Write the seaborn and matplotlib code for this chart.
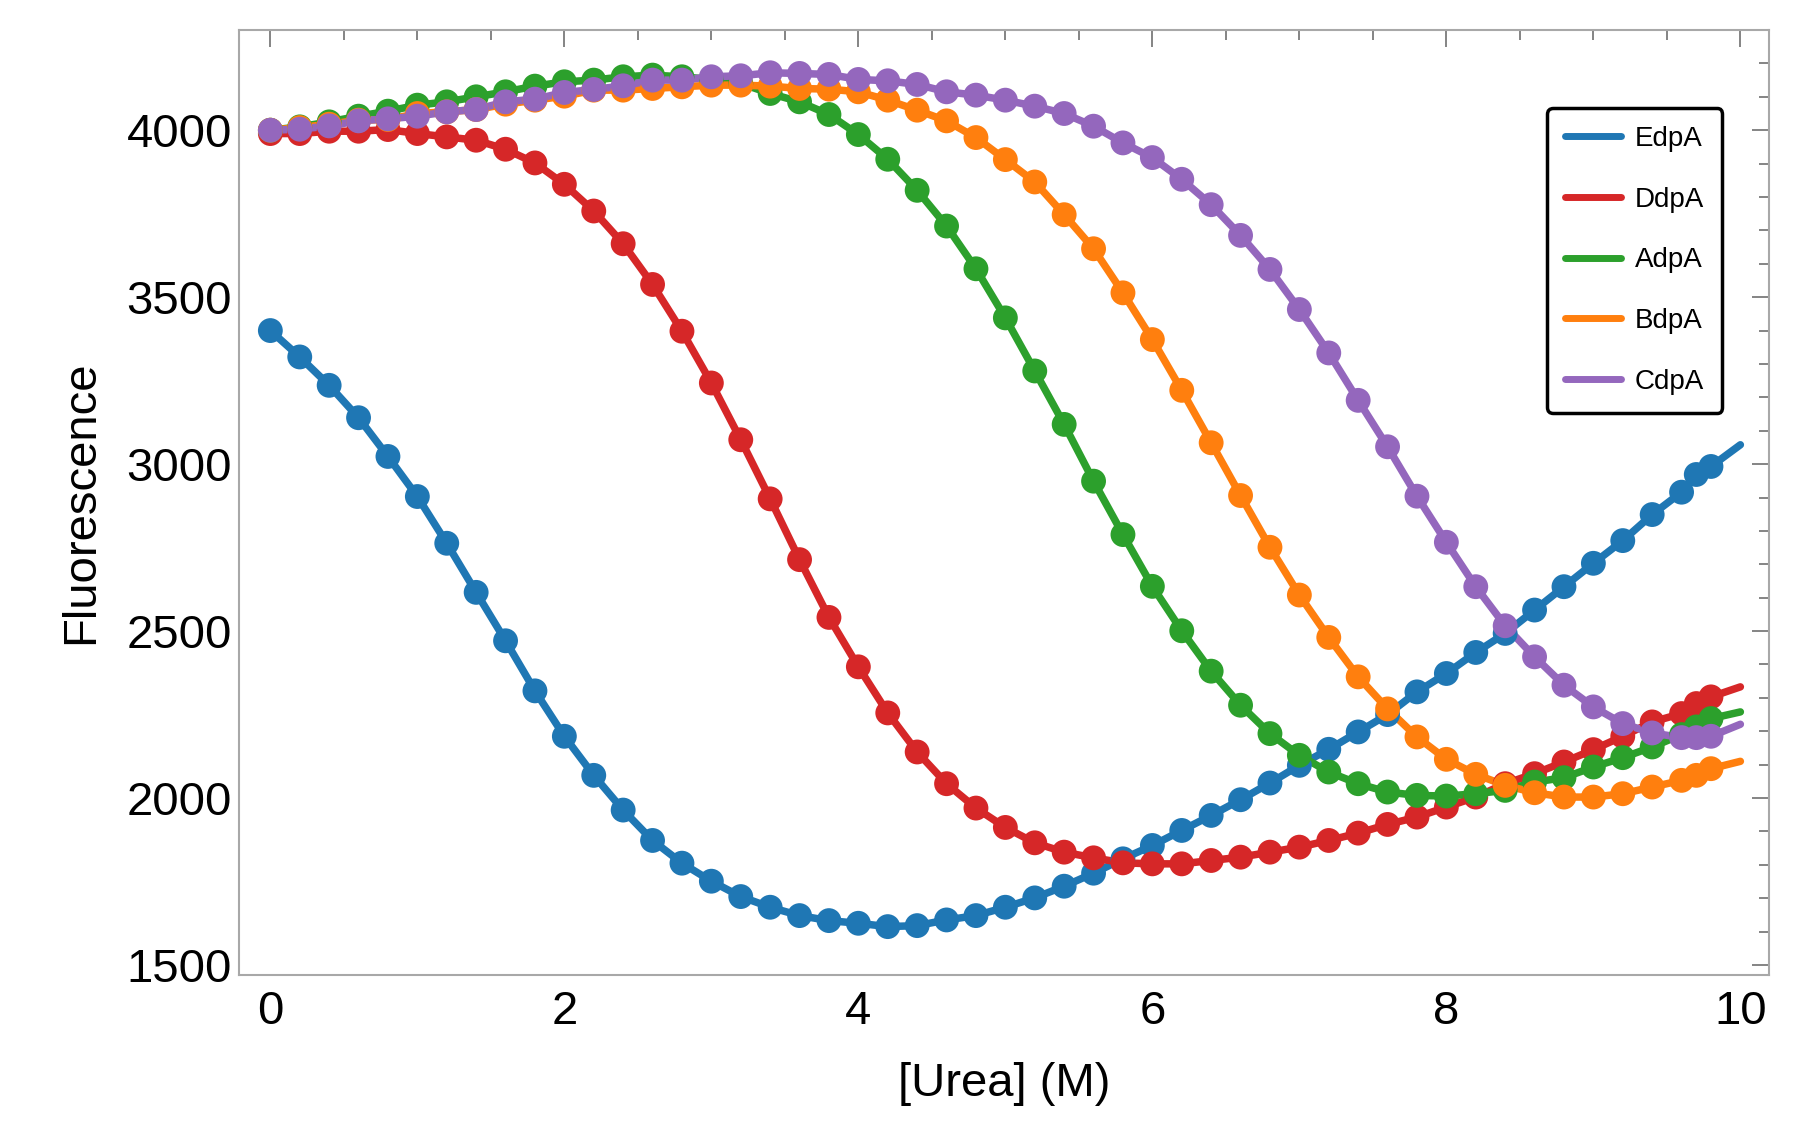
import numpy as np
import pandas as pd
import matplotlib
matplotlib.use("Agg")
import matplotlib.pyplot as plt
from matplotlib.lines import Line2D
from matplotlib.ticker import MultipleLocator
import seaborn as sns

# Datos: urea (M) y fluorescencia de cada proteína
urea = [0.0, 0.2, 0.4, 0.6, 0.8, 1.0, 1.2, 1.4, 1.6, 1.8,
        2.0, 2.2, 2.4, 2.6, 2.8, 3.0, 3.2, 3.4, 3.6, 3.8,
        4.0, 4.2, 4.4, 4.6, 4.8, 5.0, 5.2, 5.4, 5.6, 5.8,
        6.0, 6.2, 6.4, 6.6, 6.8, 7.0, 7.2, 7.4, 7.6, 7.8,
        8.0, 8.2, 8.4, 8.6, 8.8, 9.0, 9.2, 9.4, 9.6, 9.7, 9.8]

edpa = [3400, 3321, 3236, 3139, 3023, 2903, 2763, 2616, 2471, 2321,
        2185, 2068, 1964, 1873, 1805, 1751, 1705, 1673, 1648, 1633,
        1625, 1615, 1618, 1635, 1648, 1673, 1701, 1736, 1775, 1818,
        1858, 1903, 1948, 1995, 2045, 2098, 2146, 2198, 2250, 2318,
        2373, 2436, 2493, 2563, 2633, 2703, 2771, 2849, 2916, 2969, 2993]

ddpa = [3990, 3990, 3997, 3997, 4002, 3990, 3980, 3970, 3943, 3902,
        3838, 3758, 3660, 3538, 3398, 3243, 3073, 2896, 2714, 2541,
        2393, 2255, 2138, 2043, 1970, 1912, 1866, 1838, 1821, 1806,
        1803, 1803, 1813, 1823, 1838, 1853, 1873, 1895, 1921, 1943,
        1973, 2003, 2043, 2073, 2108, 2145, 2185, 2228, 2253, 2283, 2303]

adpa = [4000, 4010, 4025, 4042, 4057, 4075, 4085, 4100, 4115, 4132,
        4145, 4150, 4160, 4165, 4160, 4152, 4140, 4110, 4085, 4047,
        3987, 3913, 3820, 3713, 3585, 3438, 3279, 3119, 2949, 2789,
        2634, 2501, 2380, 2278, 2193, 2128, 2078, 2043, 2018, 2008,
        2006, 2013, 2023, 2048, 2061, 2093, 2121, 2153, 2190, 2213, 2238]

bdpa = [4000, 4008, 4018, 4030, 4032, 4050, 4055, 4062, 4078, 4090,
        4102, 4120, 4120, 4125, 4130, 4135, 4135, 4132, 4125, 4123,
        4115, 4090, 4060, 4028, 3978, 3912, 3845, 3747, 3645, 3513,
        3373, 3221, 3064, 2906, 2751, 2608, 2481, 2363, 2267, 2183,
        2116, 2071, 2038, 2016, 2003, 2003, 2013, 2033, 2053, 2068, 2088]

cdpa = [4000, 4003, 4013, 4028, 4034, 4042, 4055, 4062, 4085, 4093,
        4113, 4122, 4133, 4150, 4150, 4160, 4163, 4172, 4170, 4167,
        4152, 4148, 4137, 4115, 4105, 4090, 4072, 4050, 4012, 3962,
        3918, 3853, 3777, 3685, 3583, 3463, 3333, 3191, 3052, 2904,
        2766, 2633, 2516, 2423, 2338, 2273, 2223, 2195, 2181, 2181, 2185]

# Extremo de las curvas de ajuste en [Urea] = 10 M
urea_end = 10.0
fit_end = [3058, 2333, 2258, 2110, 2221]

proteins = ["EdpA", "DdpA", "AdpA", "BdpA", "CdpA"]
colors = ["#1f77b4", "#d62728", "#2ca02c", "#ff7f0e", "#9467bd"]
series = [edpa, ddpa, adpa, bdpa, cdpa]

# Tablas largas para seaborn
points = pd.concat(
    [pd.DataFrame({"Urea": urea, "Fluorescence": vals, "Protein": name})
     for name, vals in zip(proteins, series)],
    ignore_index=True)
lines = pd.concat(
    [pd.DataFrame({"Urea": urea + [urea_end], "Fluorescence": vals + [end],
                   "Protein": name})
     for name, vals, end in zip(proteins, series, fit_end)],
    ignore_index=True)

sns.set_theme(style="white")
plt.rcParams["font.family"] = ["Liberation Sans", "DejaVu Sans"]
plt.rcParams["text.color"] = "black"
plt.rcParams["axes.labelcolor"] = "black"

palette = dict(zip(proteins, colors))

fig = plt.figure(figsize=(18, 11.42), dpi=100)
ax = fig.add_axes([0.1328, 0.1462, 0.85, 0.8275])

sns.lineplot(data=lines, x="Urea", y="Fluorescence", hue="Protein",
             hue_order=proteins, palette=palette, estimator=None,
             linewidth=5.4, legend=False, ax=ax)
sns.scatterplot(data=points, x="Urea", y="Fluorescence", hue="Protein",
                hue_order=proteins, palette=palette, s=320, linewidth=0,
                legend=False, zorder=3, ax=ax)

ax.set_xlim(-0.213, 10.195)
ax.set_ylim(1470, 4300)

ax.xaxis.set_major_locator(MultipleLocator(2))
ax.xaxis.set_minor_locator(MultipleLocator(0.5))
ax.yaxis.set_major_locator(MultipleLocator(500))
ax.yaxis.set_minor_locator(MultipleLocator(100))
ax.tick_params(which="both", direction="in", top=True, right=True,
               color="#707070", width=1.2)
ax.tick_params(which="major", length=12)
ax.tick_params(which="minor", length=7)
ax.tick_params(axis="both", labelsize=34, labelcolor="black")
ax.tick_params(axis="x", pad=11)
ax.tick_params(axis="y", pad=5)

for sp in ax.spines.values():
    sp.set_color("#a8a8a8")
    sp.set_linewidth(1.5)

ax.set_xlabel("[Urea] (M)", fontsize=34, labelpad=20, color="black")
ax.set_ylabel("Fluorescence", fontsize=34, labelpad=17, color="black")

handles = [Line2D([], [], color=c, lw=5) for c in colors]
leg = ax.legend(handles, proteins, loc="upper right",
                bbox_to_anchor=(0.9693, 0.9175), borderaxespad=0,
                fontsize=20, frameon=True, fancybox=True,
                handlelength=2.0, handletextpad=0.5, labelspacing=1.25,
                borderpad=0.65)
leg.get_frame().set_edgecolor("black")
leg.get_frame().set_linewidth(2.5)
leg.get_frame().set_alpha(1)
for t in leg.get_texts():
    t.set_color("black")

fig.savefig("out.png", dpi=100)
